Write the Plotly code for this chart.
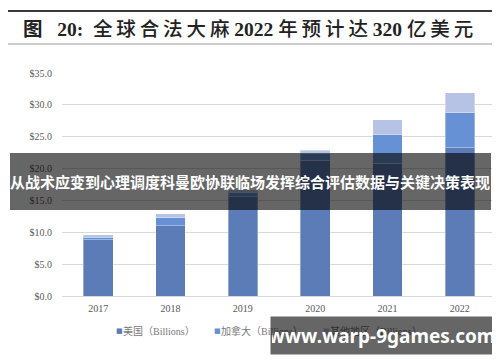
import plotly.graph_objects as go

years = ["2017", "2018", "2019", "2020", "2021", "2022"]
us = [8.8, 11.0, 15.6, 21.3, 20.8, 23.3]
canada = [0.4, 1.3, 0.7, 1.1, 4.5, 5.5]
other = [0.4, 0.6, 0.4, 0.5, 2.4, 3.1]
y_ticks = [0, 5, 10, 15, 20, 25, 30, 35]
y_tick_text = ["$%.1f" % v for v in y_ticks]

series_names = ["美国（Billions）", "加拿大（Billions）", "其他地区（Billions）"]
colors = ["#5b7cb6", "#6691d4", "#b6c3e4"]

# the page body has an 8px margin: work in screen pixels and shift
OFF = 8
W, H = 500 - OFF, 362 - OFF
SL, SR, ST, SB = 62, 496, 73, 296  # plot area in screen pixels
L, R, T, B = SL - OFF, W - (SR - OFF), ST - OFF, H - (SB - OFF)
PW, PH = W - L - R, H - T - B


def px(x):
    return (x - OFF - L) / PW


def py(y):
    return (H - B - (y - OFF)) / PH


fig = go.Figure()
for name, vals, c in zip(series_names, [us, canada, other], colors):
    fig.add_trace(go.Bar(x=years, y=vals, name=name,
                         marker=dict(color=c, line=dict(color="rgba(255,255,255,0.35)", width=1))))

fig.update_layout(
    barmode="stack",
    bargap=0.59,
    width=W, height=H,
    margin=dict(l=L, r=R, t=T, b=B, autoexpand=False),
    paper_bgcolor="white", plot_bgcolor="white",
    font=dict(family="Liberation Serif, Noto Sans CJK SC", color="#595959", size=10),
    showlegend=False,
    yaxis=dict(range=[0, 35], tickvals=y_ticks, ticktext=y_tick_text, showgrid=True,
               gridcolor="#d9d9d9", gridwidth=1, zeroline=False, showline=False, automargin=False,
               ticks="", ticklabelstandoff=9, tickfont=dict(size=10, color="#595959")),
    xaxis=dict(showline=True, linecolor="#d9d9d9", ticks="", automargin=False,
               tickfont=dict(size=10, color="#595959"), ticklabelstandoff=3),
)

shapes = [
    dict(type="line", xref="paper", yref="paper", x0=px(8), x1=px(500), y0=py(11), y1=py(11),
         line=dict(color="#3a3a3a", width=2)),
    dict(type="line", xref="paper", yref="paper", x0=px(8), x1=px(500), y0=py(44), y1=py(44),
         line=dict(color="#9a9a9a", width=1)),
    dict(type="rect", xref="paper", yref="paper", x0=px(10), x1=px(491), y0=py(210), y1=py(153),
         fillcolor="rgba(0,0,0,0.6)", line=dict(width=0), layer="above"),
]
fig.update_layout(shapes=shapes)

# legend (drawn as text entries)
legend_x = [114, 212, 321]
for name, c, lx in zip(series_names, colors, legend_x):
    fig.add_annotation(text="■", xref="paper", yref="paper", x=px(lx), y=py(331),
                       xanchor="left", yanchor="middle", showarrow=False,
                       font=dict(size=7, color=c, family="DejaVu Sans"))
    fig.add_annotation(text=name, xref="paper", yref="paper", x=px(lx + 7), y=py(331),
                       xanchor="left", yanchor="middle", showarrow=False,
                       font=dict(size=10, color="#7a7a7a", family="Liberation Serif, Noto Sans CJK SC"))

ts = "\u2009"
title = ("<b>图</b>" + "   " + "<b>20:</b>" + "  " +
         ts.join("全球合法大麻") + " <b>2022</b> " + ts.join("年预计达") + " <b>320</b> " + ts.join("亿美元"))
fig.add_annotation(text=title, xref="paper", yref="paper",
                   x=px(21), y=py(29), xanchor="left", yanchor="middle", showarrow=False,
                   font=dict(size=19.5, color="#222222", family="Liberation Serif, Noto Sans CJK SC", weight=500))
fig.add_annotation(text="<b>从战术应变到心理调度科曼欧协联临场发挥综合评估数据与关键决策表现</b>",
                   xref="paper", yref="paper", x=px(250), y=py(181), xanchor="center", yanchor="middle",
                   showarrow=False, font=dict(size=15, color="white", family="Noto Sans CJK SC"))
fig.add_annotation(text="<b>www.warp-9games.com</b>", xref="paper", yref="paper",
                   x=px(382), y=py(335), xanchor="center", yanchor="middle", showarrow=False,
                   width=220, height=35, bgcolor="rgba(0,0,0,0.6)",
                   font=dict(size=19, color="white", family="Noto Sans, Open Sans"))

fig.write_html("out.html")
